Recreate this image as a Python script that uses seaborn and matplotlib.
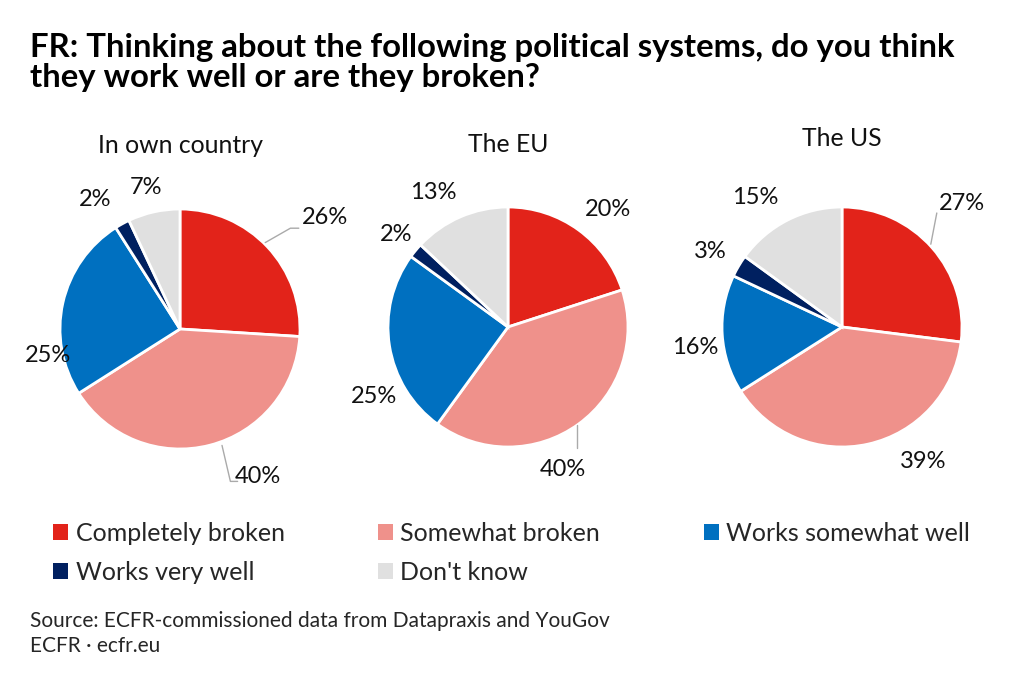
import numpy as np
import matplotlib
matplotlib.use("Agg")
import matplotlib.pyplot as plt
import seaborn as sns
from matplotlib.patches import Patch

sns.set_theme(style="white")
plt.rcParams['font.family'] = ['Lato', 'DejaVu Sans']

# Datos
categorias = ["Completely broken", "Somewhat broken", "Works somewhat well",
              "Works very well", "Don't know"]
sistemas = ["In own country", "The EU", "The US"]
valores_pais = [26, 40, 25, 2, 7]
valores_ue = [20, 40, 25, 2, 13]
valores_eeuu = [27, 39, 16, 3, 15]
valores = [valores_pais, valores_ue, valores_eeuu]

colores = ["#e2231a", "#ef918b", "#0070c0", "#002060", "#e0e0e0"]

# Posiciones de las etiquetas (en radios del pastel)
pos_etiquetas = [
    [(1.21, 0.93), (0.65, -1.23), (-1.10, -0.22), (-0.71, 1.08), (-0.28, 1.18)],
    [(0.83, 0.98), (0.46, -1.19), (-1.12, -0.58), (-0.93, 0.77), (-0.62, 1.12)],
    [(1.00, 1.03), (0.68, -1.12), (-1.22, -0.17), (-1.10, 0.63), (-0.72, 1.08)],
]
# Líneas guía: (pastel, puntos)
guias = [
    (0, [(0.71, 0.72), (0.92, 0.84), (0.99, 0.84)]),
    (0, [(0.35, -0.97), (0.42, -1.27), (0.48, -1.27)]),
    (1, [(0.575, -0.82), (0.575, -1.01)]),
    (2, [(0.74, 0.69), (0.79, 0.95)]),
]
titulo_y = [1.53, 1.52, 1.575]
centros = [(180, 329), (508, 327), (842, 327)]

W, H = 1024, 682
R = 120
L = 1.6  # medio ancho del eje en radios
fig = plt.figure(figsize=(W / 100, H / 100), dpi=100)

ejes = []
for i, (cx, cy) in enumerate(centros):
    lado = 2 * L * R
    ax = fig.add_axes([(cx - lado / 2) / W, (H - cy - lado / 2) / H, lado / W, lado / H])
    ax.pie(valores[i], colors=colores, startangle=90, counterclock=False,
           radius=1, wedgeprops=dict(edgecolor="white", linewidth=2))
    for v, (x, y) in zip(valores[i], pos_etiquetas[i]):
        ax.text(x, y, f"{v}%", ha="center", va="center", fontsize=17, color="#111111")
    ax.text(0, titulo_y[i], sistemas[i], ha="center", va="center", fontsize=17.8, color="#111111")
    ax.set_xlim(-L, L)
    ax.set_ylim(-L, L)
    ax.set_aspect("equal")
    ax.axis("off")
    ejes.append(ax)

for i, pts in guias:
    xs, ys = zip(*pts)
    ejes[i].plot(xs, ys, color="#aaaaaa", linewidth=1)

fig.text(30 / W, 1 - 47 / H, "FR: Thinking about the following political systems, do you think",
         fontsize=23.7, fontweight="bold", va="center", ha="left", color="black")
fig.text(30 / W, 1 - 78 / H, "they work well or are they broken?",
         fontsize=23.7, fontweight="bold", va="center", ha="left", color="black")

# Leyenda en tres columnas
columnas = [[0, 3], [1, 4], [2]]
x_cols = [53, 378, 704]
for xc, idx in zip(x_cols, columnas):
    handles = [Patch(facecolor=colores[k], edgecolor="none", label=categorias[k]) for k in idx]
    fig.legend(handles=handles, loc="upper left", bbox_to_anchor=(xc / W, 1 - 522 / H),
               frameon=False, fontsize=18, handlelength=0.6, handleheight=0.6,
               handletextpad=0.3, labelspacing=0.62, borderpad=0, borderaxespad=0)

fig.text(30 / W, 1 - 621 / H, "Source: ECFR-commissioned data from Datapraxis and YouGov",
         fontsize=15, va="center", ha="left")
fig.text(30 / W, 1 - 646 / H, "ECFR · ecfr.eu", fontsize=15, va="center", ha="left")

fig.savefig("out.png", dpi=100, facecolor="white")
